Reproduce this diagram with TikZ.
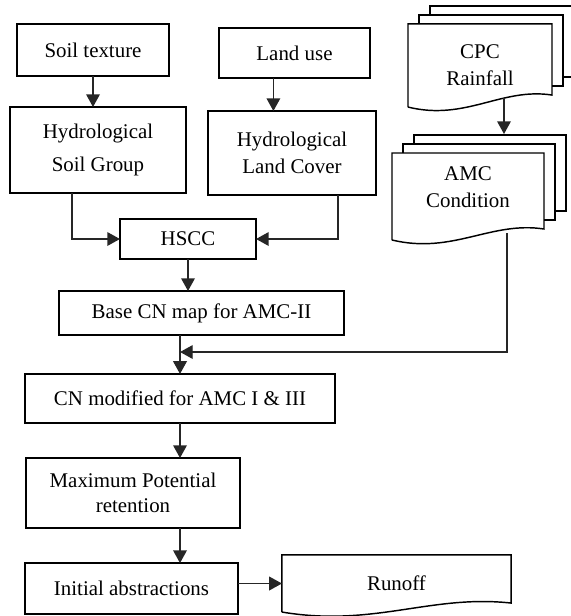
\documentclass[tikz,border=0pt]{standalone}
\usepackage{fontspec}
\setmainfont{Liberation Serif}
\usepackage{tikz}
\usetikzlibrary{arrows.meta,calc}

% document outline with wavy bottom: node, rise of right end, drop of left end
\newcommand{\docframe}[3]{%
  \coordinate (#1-lb) at ($(#1.south west)+(0,#3)$);
  \coordinate (#1-rb) at ($(#1.south east)+(0,#3-#2)$);
  \draw (#1-lb) -- (#1.north west) -- (#1.north east) -- (#1-rb)
    .. controls ($(#1-rb)!0.35!(#1-lb)+(0,-12)$) and ($(#1-rb)!0.6!(#1-lb)+(0,19)$) .. (#1-lb);
}
% two pages behind a document
\newcommand{\docstack}[1]{%
  \draw ($(#1.north west)+(11,0)$) -- ++(0,-9) -- ($(#1.north east)+(11,-9)$)
    -- ($(#1-rb)+(11,-9)$) -- ($(#1-rb)+(0,-9)$);
  \draw ($(#1.north west)+(22,-9)$) -- ++(0,-9) -- ($(#1.north east)+(22,-18)$)
    -- ($(#1-rb)+(22,-18)$) -- ($(#1-rb)+(11,-18)$);
}

\begin{document}
\begin{tikzpicture}[x=0.55pt, y=-0.55pt, line width=0.8pt,
  box/.style = {draw, inner sep=0pt, outer sep=0pt, align=center},
  doc/.style = {inner sep=0pt, outer sep=0pt, align=center},
  arrow/.style = {draw=black!85, -{Triangle[length=7pt,width=7.5pt]}},
  font=\fontsize{11.5}{15}\selectfont]
\useasboundingbox (0,0) rectangle (571,616);

\node[box, minimum width=83.6pt, minimum height=28.6pt] (soil) at (93,50) {Soil texture};
\node[box, minimum width=83pt, minimum height=27.5pt] (land) at (294.5,53) {Land use};
\node[box, minimum width=96.8pt, minimum height=47.3pt] (hsg) at (98,150) {Hydrological\\[3pt]Soil Group};
\node[box, minimum width=92.4pt, minimum height=46.2pt] (hlc) at (292,153) {Hydrological\\Land Cover};
\node[box, minimum width=74.8pt, minimum height=22pt] (hscc) at (188,239) {HSCC};
\node[box, minimum width=156.8pt, minimum height=24.2pt] (base) at (201.5,313) {Base CN map for AMC-II};
\node[box, minimum width=170.5pt, minimum height=27pt] (cnmod) at (180,398.5) {CN modified for AMC I \& III};
\node[box, minimum width=117.7pt, minimum height=38.5pt] (smax) at (133,493) {Maximum Potential\\[-1pt]retention};
\node[box, minimum width=117.2pt, minimum height=28pt] (ia) at (131.5,588.5) {Initial abstractions};

\node[doc, minimum width=79.2pt, minimum height=45.7pt] (cpc) at (480,65.5) {CPC\\Rainfall};
\node[doc, minimum width=83.6pt, minimum height=37.4pt] (amc) at (468,187) {AMC\\Condition};
\node[doc, minimum width=126pt, minimum height=31.4pt] (runoff) at (396.5,583.5) {Runoff};

\docframe{cpc}{12}{0}
\docstack{cpc}
\docframe{amc}{11}{19}
\docstack{amc}
\docframe{runoff}{9}{0}

\coordinate (landout) at ([xshift=-11.6pt]land.south);
\coordinate (hsgout) at ([xshift=-14.3pt]hsg.south);
\coordinate (hlcout) at ([xshift=25.3pt]hlc.south);
\coordinate (cpcout) at (504,98);
\coordinate (amcin) at (504,134);
\coordinate (amcout) at (507,233);
\coordinate (join) at (180,352);

\draw[arrow] (soil) -- (soil |- hsg.north);
\draw[arrow] (landout) -- (landout |- hlc.north);
\draw[arrow] (hsgout) |- (hscc.west);
\draw[arrow] (hlcout) |- (hscc.east);
\draw[arrow] (hscc) -- (hscc |- base.north);
\draw[arrow] (base.south -| cnmod.north) -- (cnmod.north);
\draw[arrow] (cpcout) -- (amcin);
\draw[arrow] (amcout) |- (join);
\draw[arrow] (cnmod.south) -- (cnmod.south |- smax.north);
\draw[arrow] (cnmod.south |- smax.south) -- (cnmod.south |- ia.north);
\draw[arrow] (ia.east |- runoff) -- (runoff.west);

\end{tikzpicture}
\end{document}
